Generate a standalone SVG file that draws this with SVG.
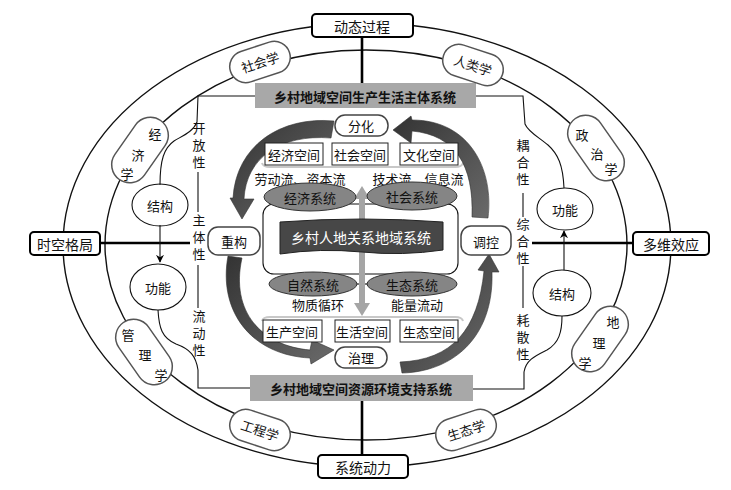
<svg xmlns="http://www.w3.org/2000/svg" width="731" height="490" viewBox="0 0 731 490">
<defs>
<style>
text{font-family:"Noto Sans CJK SC","Noto Sans",sans-serif;fill:#111;text-anchor:middle;dominant-baseline:central;font-size:13px}
.ring{fill:none;stroke:#111;stroke-width:1.4}
.thin{fill:none;stroke:#111;stroke-width:1.1}
.thick{fill:none;stroke:#000;stroke-width:2.6}
.box{fill:#fff;stroke:#000;stroke-width:2}
.pill{fill:#fff;stroke:#555;stroke-width:1.5}
.cpill{fill:#fff;stroke:#444;stroke-width:1.5}
.sbox{fill:#fff;stroke:#222;stroke-width:1}
.bar{fill:#a8a8a8}
.bt{font-size:13px;font-weight:bold}
.ell{fill:#858585;stroke:#333;stroke-width:1}
.big{fill:url(#g1);stroke:#333;stroke-width:0.6}
.lbl{font-size:14px}
.vt{writing-mode:vertical-rl;text-anchor:start;letter-spacing:4px}
</style>
<linearGradient id="g1" x1="0" y1="0" x2="1" y2="1">
<stop offset="0" stop-color="#333"/>
<stop offset="1" stop-color="#6a6a6a"/>
</linearGradient>
<marker id="ah" viewBox="0 0 10 10" refX="9" refY="5" markerWidth="8" markerHeight="8" orient="auto" markerUnits="userSpaceOnUse">
<path d="M0,0 L10,5 L0,10 L3,5 Z" fill="#000"/>
</marker>
</defs>
<rect width="731" height="490" fill="#fff"/>

<g id="connectors">
<ellipse class="ring" cx="367" cy="245" rx="304" ry="222"/>
<ellipse class="ring" cx="366" cy="245" rx="261" ry="195"/>
<line class="thick" x1="362" y1="37" x2="362" y2="83"/>
<line class="thick" x1="362" y1="401" x2="362" y2="455"/>
<line class="thick" x1="100" y1="243" x2="190" y2="243"/>
<line class="thick" x1="532" y1="243" x2="633" y2="243"/>
<path class="thin" d="M255,96 L198,96 L197,122 C193,132 182,136 174,141 C164,148 160,160 160,185"/>
<line class="thin" x1="198" y1="172" x2="198" y2="212"/>
<line class="thin" x1="198" y1="265" x2="198" y2="308"/>
<path class="thin" d="M158,310 C159,328 162,338 176,344 C190,349 196,356 198,370 L198,388 L250,388"/>
<line class="thin" x1="160" y1="225" x2="160" y2="262" marker-end="url(#ah)"/>
<path class="thin" d="M476,96 L523,96 L525,124 C528,132 540,138 548,145 C558,154 563,165 564,188"/>
<line class="thin" x1="523" y1="193" x2="523" y2="217"/>
<line class="thin" x1="523" y1="266" x2="523" y2="308"/>
<path class="thin" d="M562,316 C562,332 559,343 547,350 C535,356 526,360 524,372 L524,389 L473,389"/>
<line class="thin" x1="564" y1="270" x2="564" y2="231" marker-end="url(#ah)"/>
<rect x="263" y="204" width="195" height="70" rx="11" class="thin"/>
<line class="thin" x1="354" y1="197" x2="368" y2="197"/>
<line class="thin" x1="356" y1="284" x2="368" y2="284"/>
<line x1="362" y1="198" x2="362" y2="304" stroke="#a5a5a5" stroke-width="6"/>
<path d="M354,199 L362,186 L370,199 Z" fill="#a5a5a5"/>
<path d="M354,303 L362,316 L370,303 Z" fill="#a5a5a5"/>
<path d="M262,163 Q263,167 270,167 L455,167 Q462,167 463,163" fill="none" stroke="#c8c8c8" stroke-width="2"/>
<path d="M262,321 Q263,317 270,317 L455,317 Q462,317 463,321" fill="none" stroke="#c8c8c8" stroke-width="2"/>
<path class="big" d="M334,121 C280,116 236,146 233,198 L230,198 L242,219 L254,199 L244,199 C246,158 280,134 331,138 Z"/>
<path class="big" d="M488,218 C494,170 470,120 412,120 L411,116 L393,130 L411,143 L412,131 C455,135 474,165 472,217 Z"/>
<path class="big" d="M228,256 C218,310 250,355 310,358 L311,364 L334,350 L312,340 L310,350 C262,346 230,312 242,258 Z"/>
<path class="big" d="M402,373 C450,372 494,340 492,272 L499,272 L489,254 L478,270 L484,271 C478,330 452,360 400,362 Z"/>
</g>

<g id="n-dongtai"><rect class="box" x="312" y="14" width="101" height="23" rx="4"/><text class="lbl" x="362" y="26">动态过程</text></g>
<g id="n-xitong"><rect class="box" x="318" y="455" width="90" height="23" rx="4"/><text class="lbl" x="363" y="467">系统动力</text></g>
<g id="n-shikong"><rect class="box" x="30" y="232" width="70" height="23" rx="4"/><text class="lbl" x="65" y="244">时空格局</text></g>
<g id="n-duowei"><rect class="box" x="633" y="232" width="76" height="23" rx="4"/><text class="lbl" x="671" y="244">多维效应</text></g>

<g id="bar-top"><rect class="bar" x="255" y="83" width="221" height="25"/><text class="bt" x="365" y="96">乡村地域空间生产生活主体系统</text></g>
<g id="bar-bottom"><rect class="bar" x="250" y="375" width="223" height="26"/><text class="bt" x="361" y="388">乡村地域空间资源环境支持系统</text></g>

<g id="p-shehui" transform="translate(260,62) rotate(-18)"><rect class="pill" x="-31" y="-16" width="62" height="32" rx="16"/><text x="0" y="0">社会学</text></g>
<g id="p-renlei" transform="translate(473,65) rotate(18)"><rect class="pill" x="-31" y="-16" width="62" height="32" rx="16"/><text x="0" y="0">人类学</text></g>
<g id="p-gongcheng" transform="translate(260,430) rotate(18)"><rect class="pill" x="-31" y="-16" width="62" height="32" rx="16"/><text x="0" y="0">工程学</text></g>
<g id="p-shengtai" transform="translate(466,430) rotate(-18)"><rect class="pill" x="-31" y="-16" width="62" height="32" rx="16"/><text x="0" y="0">生态学</text></g>

<g id="p-jingji"><rect class="pill" x="-36" y="-18" width="72" height="36" rx="18" transform="translate(140,150) rotate(-55)"/><text x="155" y="133">经</text><text x="138" y="154">济</text><text x="127" y="173">学</text></g>
<g id="p-guanli"><rect class="pill" x="-36" y="-18" width="72" height="36" rx="18" transform="translate(144,352) rotate(55)"/><text x="128" y="334">管</text><text x="145" y="354">理</text><text x="161" y="374">学</text></g>
<g id="p-zhengzhi"><rect class="pill" x="-36" y="-18" width="72" height="36" rx="18" transform="translate(596,148) rotate(55)"/><text x="582" y="134">政</text><text x="597" y="153">治</text><text x="611" y="168">学</text></g>
<g id="p-dili"><rect class="pill" x="-36" y="-18" width="72" height="36" rx="18" transform="translate(600,339) rotate(-55)"/><text x="613" y="321">地</text><text x="599" y="342">理</text><text x="585" y="362">学</text></g>

<g id="l-jiegou"><ellipse cx="160" cy="205" rx="28" ry="21" class="thin" fill="#fff"/><text x="160" y="205">结构</text></g>
<g id="l-gongneng"><ellipse cx="158" cy="287" rx="28" ry="23" class="thin" fill="#fff"/><text x="158" y="287">功能</text></g>
<g id="r-gongneng"><ellipse cx="565" cy="209" rx="28" ry="21" class="thin" fill="#fff"/><text x="565" y="209">功能</text></g>
<g id="r-jiegou"><ellipse cx="562" cy="293" rx="29" ry="23" class="thin" fill="#fff"/><text x="562" y="293">结构</text></g>

<g id="t-left">
<text class="vt" x="199" y="122">开放性</text>
<text class="vt" x="199" y="214">主体性</text>
<text class="vt" x="199" y="310">流动性</text>
</g>
<g id="t-right">
<text class="vt" x="523" y="139">耦合性</text>
<text class="vt" x="523" y="218">综合性</text>
<text class="vt" x="523" y="314">耗散性</text>
</g>

<g id="c-fenhua"><rect class="cpill" x="335" y="115" width="53" height="21" rx="10"/><text x="361" y="125">分化</text></g>
<g id="c-zhili"><rect class="cpill" x="335" y="347" width="52" height="21" rx="10"/><text x="361" y="357">治理</text></g>
<g id="c-chonggou"><rect class="cpill" x="208" y="227" width="52" height="28" rx="10"/><text x="234" y="241">重构</text></g>
<g id="c-tiaokong"><rect class="cpill" x="461" y="226" width="50" height="29" rx="10"/><text x="486" y="241">调控</text></g>

<g id="s-jingji"><rect class="sbox" x="265" y="143" width="58" height="22"/><text x="294" y="154">经济空间</text></g>
<g id="s-shehui"><rect class="sbox" x="332" y="143" width="56" height="22"/><text x="360" y="154">社会空间</text></g>
<g id="s-wenhua"><rect class="sbox" x="400" y="143" width="58" height="22"/><text x="429" y="154">文化空间</text></g>
<g id="s-shengchan"><rect class="sbox" x="263" y="320" width="59" height="22"/><text x="292" y="331">生产空间</text></g>
<g id="s-shenghuo"><rect class="sbox" x="335" y="320" width="55" height="22"/><text x="362" y="331">生活空间</text></g>
<g id="s-shengtai"><rect class="sbox" x="400" y="320" width="58" height="22"/><text x="429" y="331">生态空间</text></g>

<g id="flows">
<text x="300" y="178">劳动流、资本流</text>
<text x="418" y="178">技术流、信息流</text>
<text x="318" y="304">物质循环</text>
<text x="417" y="304">能量流动</text>
</g>

<g id="e-jingji"><ellipse class="ell" cx="310" cy="197" rx="46" ry="14"/><text x="310" y="197">经济系统</text></g>
<g id="e-shehui"><ellipse class="ell" cx="412" cy="196" rx="45" ry="14"/><text x="412" y="196">社会系统</text></g>
<g id="e-ziran"><ellipse class="ell" cx="313" cy="284" rx="44" ry="12"/><text x="313" y="284">自然系统</text></g>
<g id="e-shengtai"><ellipse class="ell" cx="412" cy="284" rx="45" ry="12"/><text x="412" y="284">生态系统</text></g>

<g id="core"><path d="M280,222 Q362,216 443,222 L443,250 Q402,256 362,252 Q320,248 280,254 Z" fill="#474747" stroke="#222" stroke-width="1"/><text x="361" y="237" style="fill:#fff;font-size:14px">乡村人地关系地域系统</text></g>
</svg>
